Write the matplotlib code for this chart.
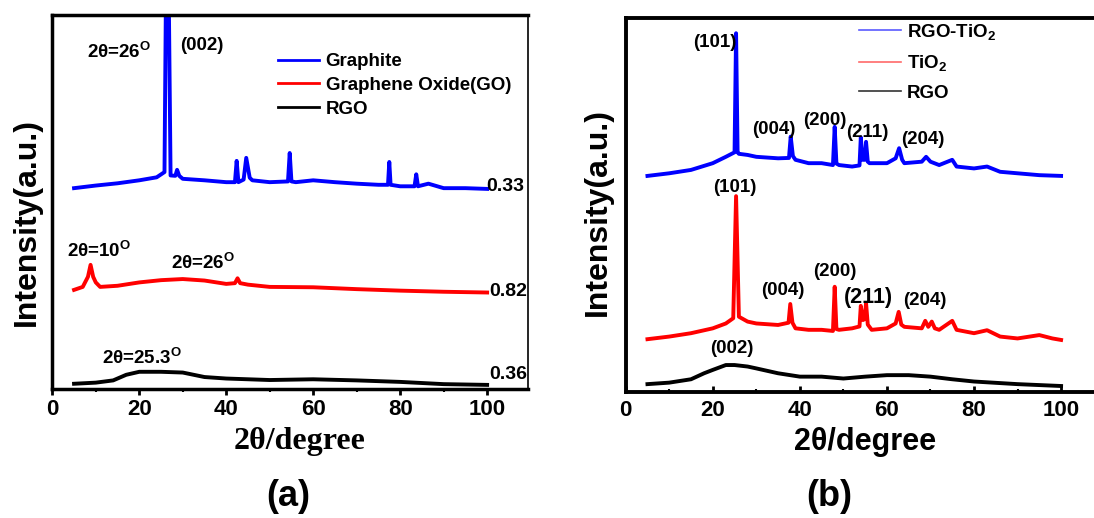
import matplotlib
matplotlib.use('Agg')
import matplotlib.pyplot as plt
from matplotlib.ticker import MultipleLocator

plt.rcParams['font.family'] = ['Liberation Sans', 'DejaVu Sans']
plt.rcParams['font.weight'] = 'bold'
plt.rcParams['mathtext.fontset'] = 'custom'
plt.rcParams['mathtext.rm'] = 'Liberation Sans:bold'
plt.rcParams['mathtext.bf'] = 'Liberation Sans:bold'
plt.rcParams['mathtext.it'] = 'Liberation Sans:bold'

# ---------------- data: panel (a) ----------------
graphite_x = [5, 10, 15, 20, 24, 25.8, 26.2, 26.7, 27.2, 28.3, 28.7, 29.2, 30, 35, 40,
              42.0, 42.4, 42.8, 44.0, 44.6, 45.4, 46, 50, 54.2, 54.6, 55.0, 56, 60, 65,
              70, 75, 77.2, 77.5, 77.8, 80, 83.3, 83.7, 84.1, 86.5, 90, 95, 100]
graphite_y = [53.7, 54.4, 55.0, 55.8, 56.6, 58.0, 115, 115, 57.1, 57.0, 58.6, 57.0, 56.2, 55.8, 55.3,
              55.3, 61.0, 55.3, 56.0, 61.8, 56.5, 55.8, 55.3, 55.5, 63.1, 55.5, 55.3, 55.8, 55.3,
              54.9, 54.6, 54.6, 60.7, 54.6, 54.2, 54.2, 57.4, 54.2, 54.9, 53.7, 53.7, 53.5]

go_x = [5, 7, 8.2, 8.8, 9.4, 10, 11, 15, 20, 25, 30, 35, 40, 42.0, 42.6, 43.2, 45, 50, 60,
        70, 80, 90, 100]
go_y = [26.5, 27.3, 30.0, 33.2, 30.0, 28.5, 27.3, 27.6, 28.5, 29.1, 29.4, 29.0, 28.1, 28.3,
        29.6, 28.3, 27.9, 27.3, 27.2, 26.7, 26.3, 26.0, 25.8]

rgo_a_x = [5, 10, 14, 17, 20, 25, 30, 35, 40, 50, 60, 70, 80, 90, 100]
rgo_a_y = [1.4, 1.7, 2.3, 3.8, 4.6, 4.6, 4.4, 3.2, 2.8, 2.4, 2.6, 2.3, 1.9, 1.3, 1.1]

# ---------------- data: panel (b) ----------------
rgotio2_x = [5, 10, 15, 20, 23, 24.5, 25.0, 25.35, 25.7, 26, 28, 30, 35, 37.5, 37.9, 38.4,
             39, 42, 45, 47.6, 48.0, 48.4, 49, 52, 53.7, 54.0, 54.4, 54.9, 55.2, 55.6, 56,
             60, 62, 62.8, 63.5, 64, 68, 69, 70, 72, 75, 76, 80, 83, 86, 90, 95, 100]
rgotio2_y = [57.7, 58.4, 59.3, 61.1, 62.8, 63.7, 64.0, 95.8, 64.0, 63.6, 63.3, 62.8, 62.4,
             62.5, 68.2, 63.0, 62.0, 61.1, 61.1, 60.6, 70.8, 61.0, 60.6, 60.2, 60.5, 68.0,
             62.0, 62.0, 66.8, 61.5, 61.1, 61.1, 62.4, 65.1, 62.0, 61.1, 61.5, 62.8, 61.5,
             60.6, 62.0, 60.2, 59.7, 60.2, 58.8, 58.4, 57.9, 57.7]

tio2_x = [5, 10, 15, 20, 23, 24.7, 25.35, 26, 28, 30, 35, 37.4, 37.8, 38.3, 39, 42, 45,
          47.6, 48.0, 48.4, 49, 52, 53.7, 54.0, 54.5, 54.9, 55.2, 55.6, 56.5, 60, 62, 62.7,
          63.3, 64, 68, 68.8, 69.5, 70.3, 71, 72, 75, 76, 80, 83, 86, 90, 95, 98, 100]
tio2_y = [14.1, 14.8, 15.7, 17.0, 18.3, 19.7, 52.3, 20.1, 18.8, 18.3, 17.9, 18.5, 23.5, 18.5,
          17.0, 16.6, 16.6, 16.3, 28.1, 16.8, 16.6, 17.0, 17.5, 23.0, 19.2, 19.5, 23.8, 18.0,
          16.6, 17.0, 18.3, 21.4, 18.0, 17.4, 17.0, 19.0, 17.4, 18.8, 17.0, 16.6, 19.0, 16.6,
          15.7, 16.5, 14.8, 14.3, 15.2, 14.3, 13.9]

rgo_b_x = [5, 10, 15, 18, 20, 23, 25, 28, 30, 35, 40, 45, 50, 55, 60, 65, 70, 75, 80, 90, 100]
rgo_b_y = [2.1, 2.5, 3.4, 5.0, 5.9, 7.2, 7.2, 6.8, 6.3, 5.0, 4.1, 4.1, 3.6, 4.1, 4.5, 4.5,
           4.1, 3.4, 2.8, 2.1, 1.6]

xticks = [0, 20, 40, 60, 80, 100]
labels_a = ['Graphite', 'Graphene Oxide(GO)', 'RGO']
labels_b = ['RGO-TiO$_\\mathbf{2}$', 'TiO$_\\mathbf{2}$', 'RGO']

W, H = 1094, 518
fig = plt.figure(figsize=(W / 100, H / 100), dpi=100)

def fx(px):
    return px / W

def fy(py):
    return 1 - py / H

# ---------------- panel (a) ----------------
ax1 = fig.add_axes([fx(52.3), fy(389), fx(528) - fx(52.3), fy(15) - fy(389)])
ax1.plot(graphite_x, graphite_y, color='#0000ff', lw=2.8, label=labels_a[0])
ax1.plot(go_x, go_y, color='#ff0000', lw=2.8, label=labels_a[1])
ax1.plot(rgo_a_x, rgo_a_y, color='black', lw=2.8, label=labels_a[2])
ax1.set_xlim(0, 109.4)
ax1.set_ylim(0, 100)
ax1.set_yticks([])
ax1.set_xticks(xticks)
ax1.xaxis.set_minor_locator(MultipleLocator(10))
ax1.tick_params(axis='x', which='major', direction='out', length=4, width=2,
                labelsize=16, pad=3)
ax1.tick_params(axis='x', which='minor', direction='out', length=2.5, width=1.5)
for s in ['left', 'top', 'bottom']:
    ax1.spines[s].set_linewidth(2.5)
ax1.spines['right'].set_linewidth(1.2)

leg1 = ax1.legend(loc='upper left', bbox_to_anchor=(fx(277.7), fy(53)),
                  bbox_transform=fig.transFigure, frameon=False, fontsize=13.5,
                  handlelength=2.2, handletextpad=0.36, labelspacing=0.36,
                  borderpad=0, borderaxespad=0)
for ln in leg1.get_lines():
    ln.set_linewidth(2)

ann = dict(fontsize=13.5, fontweight='bold')
ax1.text(7.9, 88.4, '2θ=26$^{\\mathbf{O}}$', ha='left', va='baseline', **ann)
ax1.text(34.4, 91.8, '(002)', ha='center', va='center', **ann)
ax1.text(3.3, 35.2, '2θ=10$^{\\mathbf{O}}$', ha='left', va='baseline', **ann)
ax1.text(27.2, 32.0, '2θ=26$^{\\mathbf{O}}$', ha='left', va='baseline', **ann)
ax1.text(11.4, 6.7, '2θ=25.3$^{\\mathbf{O}}$', ha='left', va='baseline', **ann)
ax1.text(99.8, 54.1, '0.33', ha='left', va='center', fontsize=14, fontweight='bold',
         clip_on=False)
ax1.text(100.5, 26.0, '0.82', ha='left', va='center', fontsize=14, fontweight='bold',
         clip_on=False)
ax1.text(100.5, 4.0, '0.36', ha='left', va='center', fontsize=14, fontweight='bold',
         clip_on=False)

fig.text(fx(27), fy(222), 'Intensity(a.u.)', rotation=90, ha='center', va='center',
         fontsize=23, fontweight='bold')
fig.text(fx(300), fy(441), '2θ/degree', ha='center', va='center', fontsize=23,
         fontweight='bold', family=['Liberation Serif', 'DejaVu Serif'])
fig.text(fx(288), fy(497), '(a)', ha='center', va='center', fontsize=26, fontweight='bold')

# ---------------- panel (b) ----------------
ax2 = fig.add_axes([fx(625.7), fy(392), 1 - fx(625.7), fy(17.5) - fy(392)])
ax2.plot(rgotio2_x, rgotio2_y, color='#0000ff', lw=2.8, label=labels_b[0])
ax2.plot(tio2_x, tio2_y, color='#ff0000', lw=2.8, label=labels_b[1])
ax2.plot(rgo_b_x, rgo_b_y, color='black', lw=2.8, label=labels_b[2])
ax2.set_xlim(0, 107.56)
ax2.set_ylim(0, 100)
ax2.set_yticks([])
ax2.set_xticks(xticks)
ax2.xaxis.set_minor_locator(MultipleLocator(10))
ax2.tick_params(axis='x', which='major', direction='in', length=4, width=2,
                labelsize=16, pad=6)
ax2.tick_params(axis='x', which='minor', direction='in', length=2.5, width=1.5)
for s in ['left', 'top', 'bottom']:
    ax2.spines[s].set_linewidth(2.8)
ax2.spines['right'].set_visible(False)

leg2 = ax2.legend(loc='upper left', bbox_to_anchor=(fx(859), fy(22)),
                  bbox_transform=fig.transFigure, frameon=False, fontsize=13.5,
                  handlelength=2.22, handletextpad=0.35, labelspacing=0.6,
                  borderpad=0, borderaxespad=0)
for ln, c in zip(leg2.get_lines(), ['#5a5aff', '#ff6a6a', '#333333']):
    ln.set_linewidth(1.2)
    ln.set_color(c)

ax2.text(20.5, 93.3, '(101)', ha='center', va='center', **ann)
ax2.text(34.0, 70.1, '(004)', ha='center', va='center', **ann)
ax2.text(45.7, 72.4, '(200)', ha='center', va='center', **ann)
ax2.text(55.4, 69.3, '(211)', ha='center', va='center', **ann)
ax2.text(68.3, 67.3, '(204)', ha='center', va='center', **ann)
ax2.text(25.0, 54.7, '(101)', ha='center', va='center', **ann)
ax2.text(36.0, 27.2, '(004)', ha='center', va='center', **ann)
ax2.text(48.0, 32.1, '(200)', ha='center', va='center', **ann)
ax2.text(55.8, 25.2, '(211)', ha='center', va='center', fontsize=15.5, fontweight='bold')
ax2.text(68.6, 24.3, '(204)', ha='center', va='center', **ann)
ax2.text(24.3, 11.7, '(002)', ha='center', va='center', **ann)

fig.text(fx(598), fy(212), 'Intensity(a.u.)', rotation=90, ha='center', va='center',
         fontsize=23, fontweight='bold')
fig.text(fx(865), fy(442), '2θ/degree', ha='center', va='center', fontsize=22,
         fontweight='bold')
fig.text(fx(829), fy(497), '(b)', ha='center', va='center', fontsize=26, fontweight='bold')

fig.savefig('out.png', dpi=100)
